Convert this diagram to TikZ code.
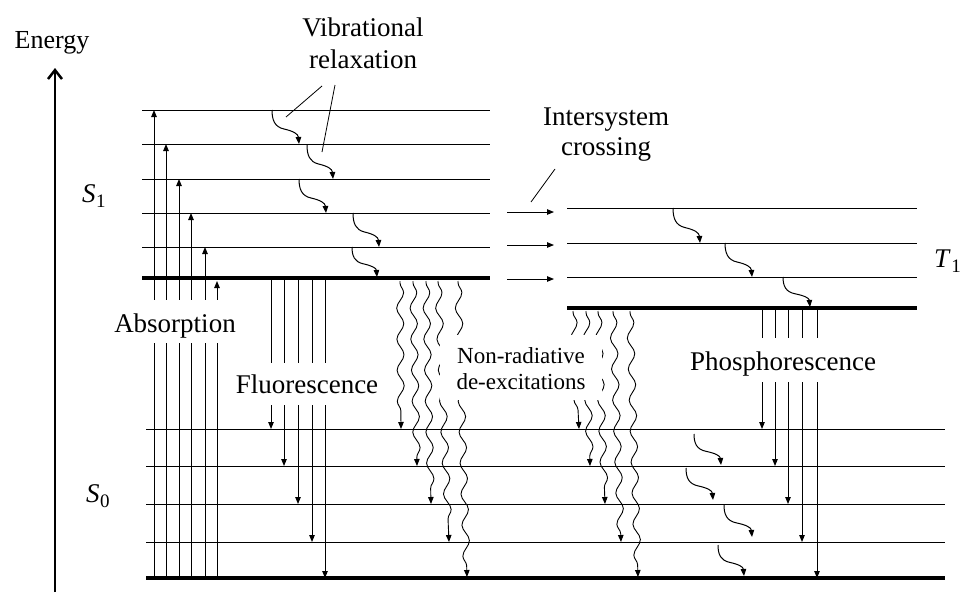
\documentclass[tikz,border=0pt]{standalone}
\usepackage{fontspec}
\setmainfont{Liberation Serif}
\usetikzlibrary{arrows.meta,decorations.pathmorphing,calc}
\newcommand\vibr[4]{\draw[tr] (#1,#2) .. controls (#1,{#2+0.3*(#4-#2)}) and ({#1+0.1*(#3-#1)},{#2+0.5*(#4-#2)}) .. ({#1+0.45*(#3-#1)},{#2+0.56*(#4-#2)}) .. controls ({#1+0.78*(#3-#1)},{#2+0.62*(#4-#2)}) and ({#1+0.97*(#3-#1)},{#2+0.7*(#4-#2)}) .. (#3,#4);}
\newcommand\lvlname[2]{\textit{#1}\kern0.5pt\raisebox{-5pt}{\fontsize{19}{19}\selectfont #2}}
\begin{document}
\begin{tikzpicture}[x=1pt,y=-1pt,
  lvl/.style={line width=1pt},
  thk/.style={line width=3.5pt},
  tr/.style={line width=1pt,-{Triangle[length=7pt,width=5.5pt]}},
  wav/.style={line width=0.9pt,-{Triangle[length=7pt,width=5.5pt]},decorate,
     decoration={snake,segment length=31pt,amplitude=3.5pt,post length=8pt,pre length=2pt}},
  lab/.style={font=\fontsize{27}{32}\selectfont,inner sep=0pt},
  sml/.style={font=\fontsize{23}{27}\selectfont,inner sep=0pt},
  mask/.style={fill=white,draw=none}]
\useasboundingbox (0,0) rectangle (963,592);
% energy axis
\draw[line width=2.5pt,-{Straight Barb[length=9pt,width=14pt]}] (55,592) -- (55,68);
\node[lab,anchor=base] (energy) at (52,48) {\fontsize{26}{30}\selectfont Energy};
% S1 levels
\foreach \y in {110,144,179,213,247} \draw[lvl] (142,\y) -- (490,\y);
\draw[thk] (142,278) -- (490,278);
% T1 levels
\foreach \y in {208,243,277} \draw[lvl] (567,\y) -- (917,\y);
\draw[thk] (567,308) -- (917,308);
% S0 levels
\foreach \y in {429,466,504,542} \draw[lvl] (146,\y) -- (945,\y);
\draw[thk] (146,578) -- (945,578);
% absorption
\foreach \x/\y in {154/110,166/144,179/179,191/213,205/247,217/281}
  \draw[tr] (\x,578) -- (\x,\y);
% fluorescence
\foreach \x/\y in {271/429,284/466,298/504,312/542,325/578}
  \draw[tr] (\x,280) -- (\x,\y);
% phosphorescence
\foreach \x/\y in {762/429,775/466,788/504,802/542,817/578}
  \draw[tr] (\x,310) -- (\x,\y);
% intersystem crossing
\foreach \y in {212,245,279} \draw[tr] (507,\y) -- (554,\y);
% vibrational relaxation
\vibr{272}{110}{299}{144}
\vibr{307}{145}{333}{179}
\vibr{299}{179}{326}{213}
\vibr{353}{213}{379}{247}
\vibr{352}{247}{377}{277}
\vibr{673}{208}{700}{243}
\vibr{725}{243}{752}{277}
\vibr{783}{277}{810}{307}
\vibr{694}{434}{721}{465}
\vibr{686}{468}{713}{500}
\vibr{724}{505}{752}{537}
\vibr{718}{545}{744}{576}
% non-radiative
\foreach \a/\b/\y in {400/401/429,413/417/466,426/431/504,438/449/542,458/467/577}
  \draw[wav] (\a,281) -- (\b,\y);
\foreach \a/\b/\y in {573/579/429,586/590/466,598/605/504,613/621/542,630/638/577}
  \draw[wav] (\a,311) -- (\b,\y);
% masks
\fill[mask] (110,300) rectangle (240,343);
\fill[mask] (232,363) rectangle (382,405);
\fill[mask] (686,338) rectangle (880,382);
\fill[mask] (440,335) rectangle (602,400);
% labels
\node[lab,anchor=base] (vr1) at (363,36) {Vibrational};
\node[lab,anchor=base] (vr2) at (363,68) {relaxation};
\draw[line width=0.8pt] (322,86) -- (286,117);
\draw[line width=0.8pt] (335,85) -- (322,152);
\node[lab,anchor=base] (isc1) at (606,125) {Intersystem};
\node[lab,anchor=base] (isc2) at (606,155) {crossing};
\draw[line width=0.8pt] (555,169) -- (531,202);
\node[lab,anchor=base] (abs) at (175,332) {Absorption};
\node[lab,anchor=base] (flu) at (307,393) {Fluorescence};
\node[lab,anchor=base] (pho) at (783,370) {Phosphorescence};
\node[sml,anchor=base] (nr1) at (521,363) {Non-radiative};
\node[sml,anchor=base] (nr2) at (521,389) {de-excitations};
\node[lab,anchor=base west] (s1) at (82,202) {\lvlname{S}{1}};
\node[lab,anchor=base west] (s0) at (86,502) {\lvlname{S}{0}};
\node[lab,anchor=base west] (t1) at (934,267) {\lvlname{T}{1}};
\end{tikzpicture}
\end{document}
